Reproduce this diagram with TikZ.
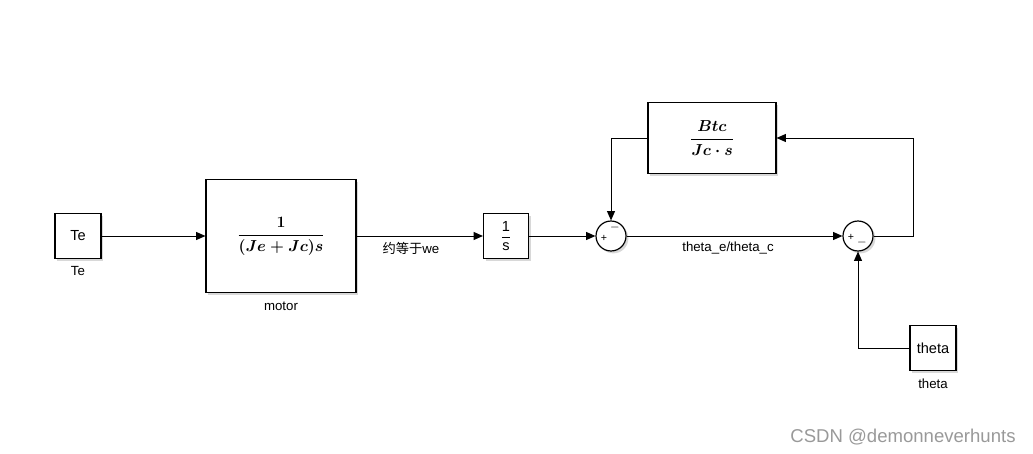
\documentclass[tikz,border=0pt]{standalone}
\usepackage{amsmath}
\usepackage{fontspec}
\setmainfont{Liberation Sans}
\newfontfamily\cjk{Noto Sans CJK SC}
\usetikzlibrary{arrows.meta,shadows}
\newcommand{\fmotor}{$\displaystyle\frac{1}{(Je+Jc)s}$}
\newcommand{\fbtc}{$\displaystyle\frac{Btc}{Jc\cdot s}$}
\newcommand{\finteg}{$\displaystyle\frac{\text{1}}{\text{s}}$}
\begin{document}
\begin{tikzpicture}[x=0.0265cm,y=-0.0265cm,>={Triangle[length=7pt,width=6pt]},font=\fontsize{10}{12}\selectfont]
\tikzstyle{bloc} = [draw,fill=white,line width=0.9pt,inner sep=0pt,font=\fontsize{11}{13}\selectfont,drop shadow={shadow xshift=1.8pt,shadow yshift=-1.8pt,fill=black!30}] %blocs simulink
\tikzstyle{somme} = [bloc,circle,minimum size=0.795cm]
\tikzstyle{lien} = [line width=0.75pt]
\tikzstyle{gras} = [font=\large\boldmath]
\useasboundingbox (0,0) rectangle (1033,454);
%blocs
\node[bloc,minimum width=1.22cm,minimum height=1.19cm] (Te) at (78,236) {Te};
\node (Tel) at (78,271) {Te};
\node[bloc,gras,minimum width=3.975cm,minimum height=2.99cm] (motor) at (281,236) {\fmotor};
\node (motorl) at (281,306) {motor};
\node[bloc,minimum width=1.19cm,minimum height=1.19cm] (integ) at (506,236) {\finteg};
\node[somme] (S1) at (611,236) {};
\node[somme] (S2) at (858,236) {};
\node[bloc,gras,minimum width=3.39cm,minimum height=1.88cm] (Btc) at (712,138) {\fbtc};
\node[bloc,minimum width=1.22cm,minimum height=1.19cm] (theta) at (933,348) {theta};
\node (thetal) at (933,384) {theta};
%signes des sommateurs
\node[font=\fontsize{8}{8}\selectfont] (p1) at (604,238) {+};
\node[font=\fontsize{9}{9}\selectfont] (m1) at (615,228) {$-$};
\node[font=\fontsize{8}{8}\selectfont] (p2) at (851,237) {+};
\node[font=\fontsize{9}{9}\selectfont] (m2) at (862,243) {$-$};
%liaisons
\draw[lien,->] (Te) -- (motor);
\draw[lien,->] (motor) -- (integ) node[pos=0.43,below=1pt] (we) {{\cjk 约等于}we};
\draw[lien,->] (integ) -- (S1);
\draw[lien,->] (S1) -- (S2) node[pos=0.47,below=1pt] (te) {theta\_e/theta\_c};
\coordinate (c1) at (913,236);
\coordinate (c2) at (913,138);
\draw[lien,->] (S2.east) -- (c1) -- (c2) -- (Btc.east);
\coordinate (c3) at (611,138);
\draw[lien,->] (Btc.west) -- (c3) -- (S1.north);
\coordinate (c4) at (858,348);
\draw[lien,->] (theta.west) -- (c4) -- (S2.south);
%filigrane
\node[text=black!40,font=\fontsize{14}{16}\selectfont] (csdn) at (903,437) {CSDN @demonneverhunts};
\end{tikzpicture}
\end{document}
